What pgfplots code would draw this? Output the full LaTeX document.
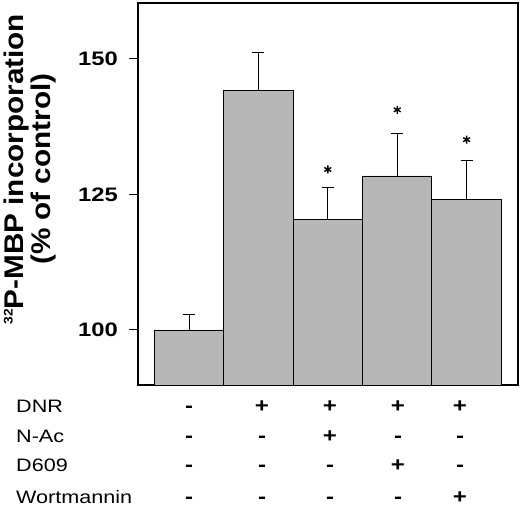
\documentclass[border=0pt]{standalone}
\usepackage{pgfplots}
\pgfplotsset{compat=1.18}
\usepackage{fontspec}
\setmainfont{Liberation Sans}
\newfontfamily\tickfont[FakeStretch=1.22]{Liberation Sans}
\newfontfamily\labfont[FakeStretch=1.1]{Liberation Sans}
\newfontfamily\rowfont[FakeStretch=1.2]{Liberation Sans}
\definecolor{barfill}{RGB}{183,183,183}
\pgfplotstableread{
x y e
0 100.0 2.8
1 144.2 7.0
2 120.3 6.0
3 128.4 7.8
4 124.1 7.1
}\bars
\pgfplotstableread{
x y
2 129.6
3 140.6
4 135.1
}\stars
\begin{document}
\begin{tikzpicture}
\useasboundingbox (-138bp,-125bp) rectangle (382bp,385bp);
\begin{axis}[
  at={(0,0)}, anchor=south west,
  scale only axis, width=380bp, height=382bp,
  xmin=-0.735, xmax=4.74, ymin=89.85, ymax=160.3,
  xtick=\empty,
  ytick={100,125,150},
  ytick pos=left,
  tick align=outside,
  major tick length=9bp,
  tick style={black, line width=1pt},
  axis line style={line width=1.3pt},
  /pgf/number format/assume math mode=true,
  yticklabel style={font=\tickfont\bfseries\fontsize{19.5bp}{19.5bp}\selectfont, inner sep=0pt, xshift=-11bp},
  ylabel={\raisebox{10.6bp}{\fontsize{12.5bp}{12.5bp}\selectfont 32}P-MBP incorporation\\(\% of control)},
  ylabel style={at={(axis description cs:-0.284,0.565)}, anchor=center, align=center, inner sep=0pt,
    font=\labfont\bfseries\fontsize{27bp}{27.5bp}\selectfont},
]
\addplot[ybar, bar width=1, fill=barfill, draw=black, line width=0.9pt,
  error bars/.cd, y dir=plus, y explicit, error mark=|,
  error bar style={line width=1pt, black},
  error mark options={mark size=6bp, line width=1pt, black}]
  table[x=x, y=y, y error=e] {\bars};
\addplot[only marks, mark=asterisk, mark size=4bp, line width=1.4pt, black] table[x=x, y=y] {\stars};
\end{axis}
\begin{scope}[every node/.style={font=\rowfont\fontsize{18bp}{18bp}\selectfont, inner sep=0pt}]
\node[anchor=base west] at (-122bp,-27.5bp) {DNR};
\node[anchor=base west] at (-122bp,-57.5bp) {N-Ac};
\node[anchor=base west] at (-122bp,-86.5bp) {D609};
\node[anchor=base west] at (-122bp,-118.5bp) {Wortmannin};
\end{scope}
\begin{scope}[every node/.style={font=\rowfont\bfseries\fontsize{20bp}{20bp}\selectfont, inner sep=0pt, anchor=base}]
% row DNR
\node at (51bp,-27.5bp) {-};
\node at (124bp,-27.5bp) {+};
\node at (192bp,-27.5bp) {+};
\node at (260bp,-27.5bp) {+};
\node at (322bp,-27.5bp) {+};
% row N-Ac
\node at (51bp,-57.5bp) {-};
\node at (124bp,-57.5bp) {-};
\node at (192bp,-57.5bp) {+};
\node at (260bp,-57.5bp) {-};
\node at (322bp,-57.5bp) {-};
% row D609
\node at (51bp,-86.5bp) {-};
\node at (124bp,-86.5bp) {-};
\node at (192bp,-86.5bp) {-};
\node at (260bp,-86.5bp) {+};
\node at (322bp,-86.5bp) {-};
% row Wortmannin
\node at (51bp,-118.5bp) {-};
\node at (124bp,-118.5bp) {-};
\node at (192bp,-118.5bp) {-};
\node at (260bp,-118.5bp) {-};
\node at (322bp,-118.5bp) {+};
\end{scope}
\end{tikzpicture}
\end{document}
